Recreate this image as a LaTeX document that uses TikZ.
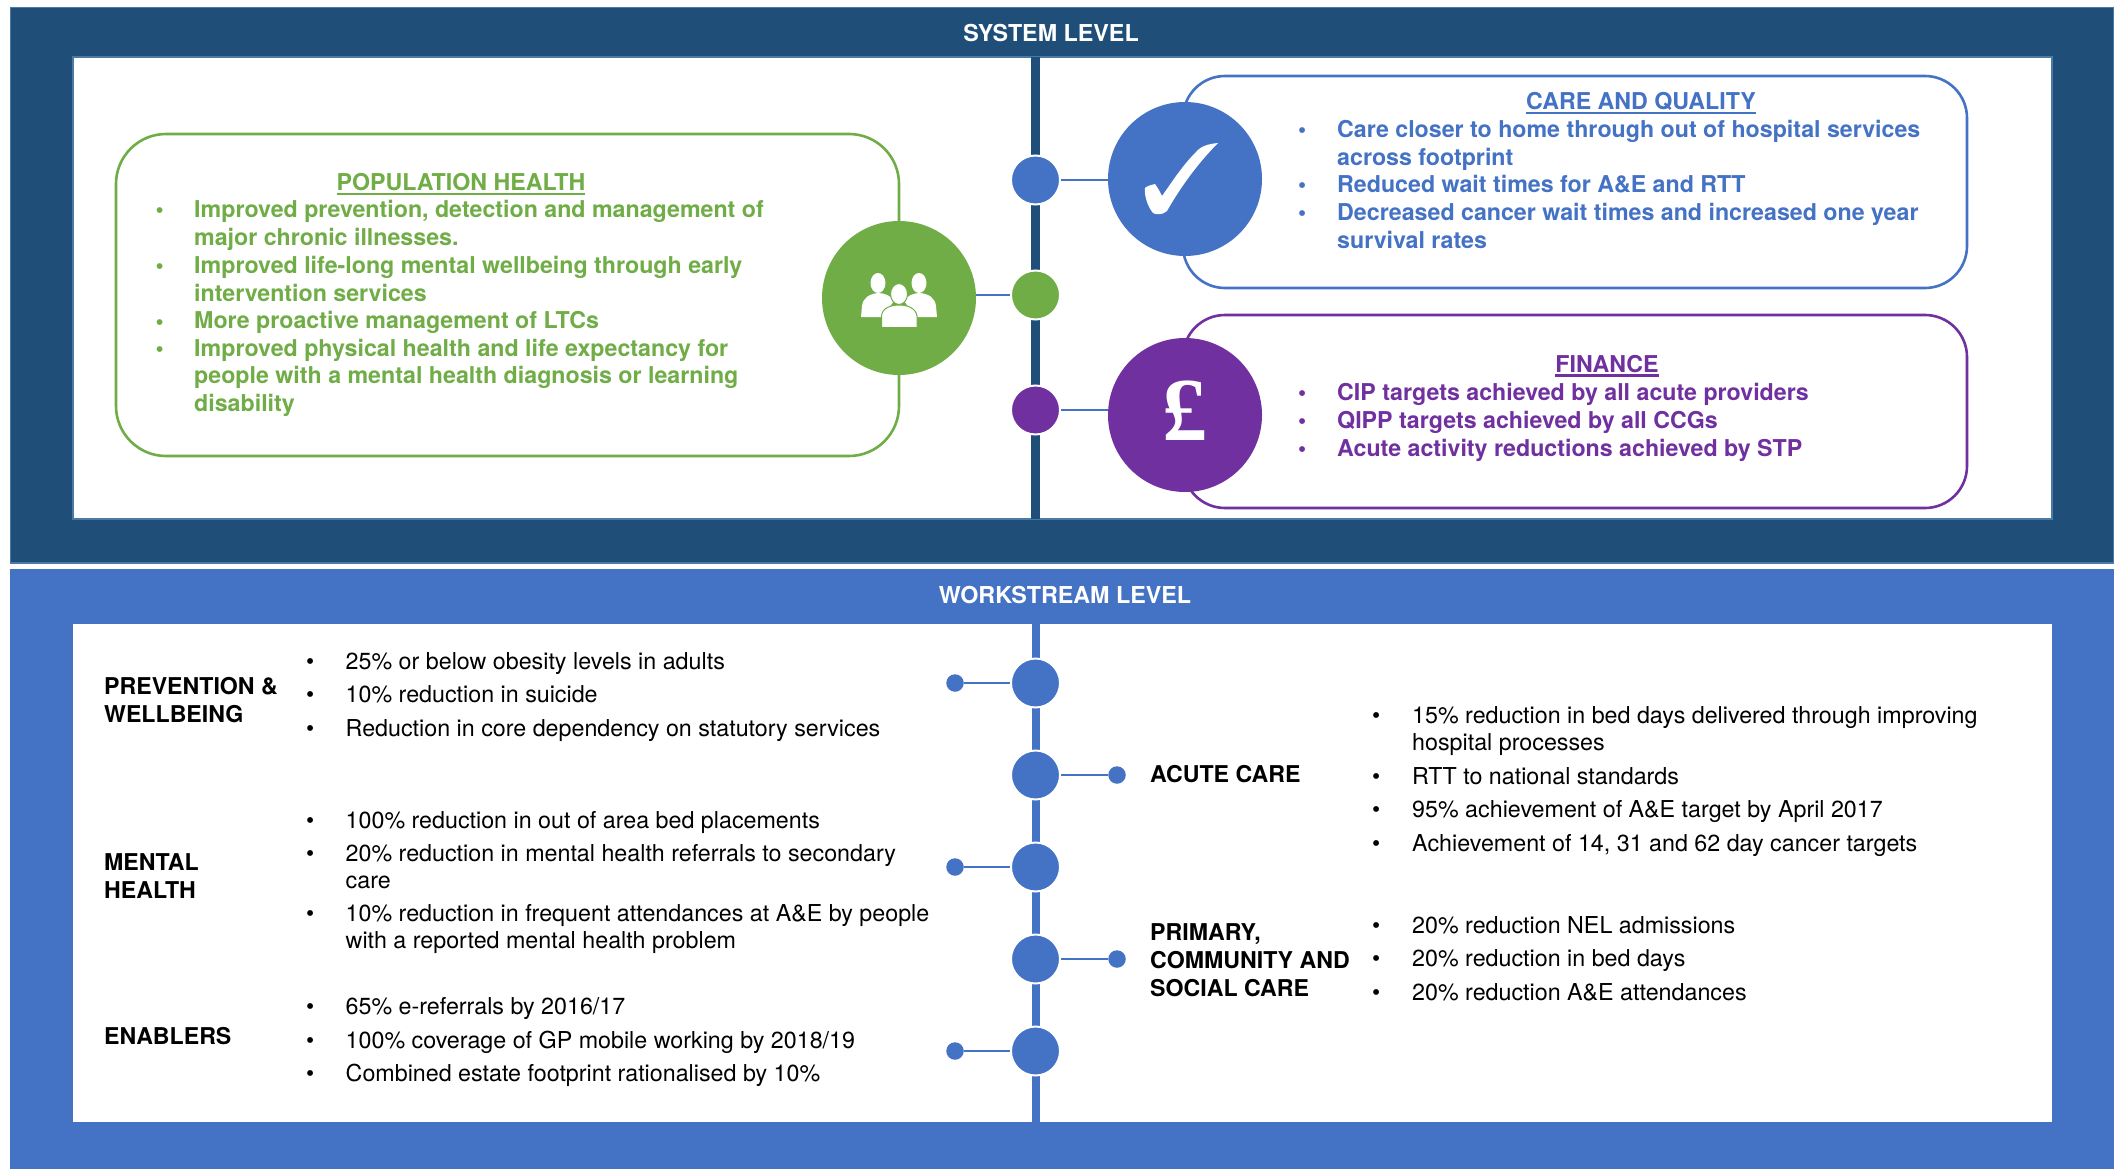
\documentclass[tikz,border=0pt]{standalone}
\usepackage{fontspec}
\setmainfont{TeX Gyre Heros}
\newfontfamily\poundfont{Liberation Serif}
\definecolor{navy}{HTML}{1F4E79}
\definecolor{navyedge}{HTML}{4A7BA6}
\definecolor{wsblue}{HTML}{4472C4}
\definecolor{popgreen}{HTML}{70AD47}
\definecolor{finpurple}{HTML}{7030A0}
\newcommand\ml[1]{\begin{tabular}[t]{@{}l@{}}#1\end{tabular}}
\newcommand\ulhead[1]{\setbox0\hbox{#1}\rlap{\rule[-5pt]{\wd0}{2.6pt}}\box0}
\tikzset{
  white panel/.style={fill=white,draw=navyedge,line width=1.5pt},
  hub/.style={circle,fill=#1,draw=white,line width=2pt,minimum size=49pt,inner sep=0pt},
  bighub/.style={circle,fill=#1,draw=none,minimum size=154pt,inner sep=0pt},
  dot/.style={circle,fill=wsblue,draw=none,minimum size=17.5pt,inner sep=0pt},
  link/.style={draw=wsblue,line width=1.6pt},
  title/.style={font=\fontsize{23.3}{27}\selectfont\bfseries,text=white,inner sep=0pt},
  boldtxt/.style={font=\fontsize{23.2}{27.7}\selectfont\bfseries,text=#1,anchor=base west,inner sep=0pt},
  plaintxt/.style={font=\fontsize{23.27}{27.5}\selectfont,text=black,anchor=base west,inner sep=0pt},
  headtxt/.style={font=\fontsize{23.15}{28}\selectfont\bfseries,text=black,anchor=base west,inner sep=0pt},
  cardhead/.style={font=\fontsize{23.2}{27.7}\selectfont\bfseries,text=#1,anchor=base,inner sep=0pt},
}
\begin{document}
\begin{tikzpicture}[x=1pt,y=-1pt]
\useasboundingbox (0,0) rectangle (2118,1169);
\fill[white] (0,0) rectangle (2118,1169);
% upper panel
\draw[fill=navy,draw=navyedge,line width=1.5pt] (10.5,7.5) rectangle (2113.5,563);
\draw[white panel] (73,57) rectangle (2052,519);
\node[title] (systitle) at (1051,33) {SYSTEM LEVEL};
\fill[navy] (1031,57) rectangle (1040,519);
% cards
\draw[draw=popgreen,line width=2.6pt,rounded corners=50pt,fill=white] (116,134) rectangle (899,456);
\draw[draw=wsblue,line width=2.6pt,rounded corners=42pt,fill=white] (1183,76) rectangle (1967,288);
\draw[draw=finpurple,line width=2.6pt,rounded corners=42pt,fill=white] (1183,315) rectangle (1967,508);
% hubs
\node[hub=wsblue] (h1) at (1035.5,180) {};
\node[hub=popgreen] (h2) at (1035.5,295) {};
\node[hub=finpurple] (h3) at (1035.5,410) {};
\node[bighub=wsblue] (b1) at (1185,179) {};
\node[bighub=popgreen] (b2) at (899,298) {};
\node[bighub=finpurple] (b3) at (1185,415) {};
\draw[link] (h1) -- (b1.west |- h1);
\draw[link] (h2) -- (b2.east |- h2);
\draw[link] (h3) -- (b3.west |- h3);
% check
\fill[white] (1218,143) .. controls (1208,144) and (1201,146) .. (1196,152) .. controls (1182,166) and (1172,182) .. (1162,196) .. controls (1160,192) and (1158,188) .. (1155,184) .. controls (1151,185) and (1147,186) .. (1145,188) .. controls (1144,196) and (1148,207) .. (1153,213) .. controls (1156,215) and (1163,215) .. (1167,211) .. controls (1180,188) and (1198,163) .. (1218,143) -- cycle;
% pound
\node[inner sep=0pt,text=white,font=\fontsize{90}{90}\selectfont\poundfont\bfseries] (pound) at (1185,411) {£};
% people
\begin{scope}[shift={(899,298)}]
\fill[white] (-21,-15) ellipse (7.5 and 10);
\fill[white] (20,-15) ellipse (7.5 and 10);
\fill[white] (-38,19) -- (-37,8) .. controls (-36,0) and (-30,-4) .. (-21,-5) .. controls (-14,-5) and (-8,-2) .. (-5,3) -- (-17,19) -- cycle;
\fill[white] (38,19) -- (37,8) .. controls (36,0) and (30,-4) .. (21,-5) .. controls (14,-5) and (8,-2) .. (5,3) -- (17,19) -- cycle;
\fill[white,draw=popgreen,line width=1pt] (-17.5,29.5) -- (-17.5,18) .. controls (-17,10) and (-8,7) .. (0,7) .. controls (8,7) and (17,10) .. (18,18) -- (18,29.5) -- cycle;
\fill[white,draw=popgreen,line width=1pt] (0,-4) ellipse (8.5 and 10.5);
\end{scope}
% green text
\node[cardhead=popgreen] (pophead) at (461,190.5) {\ulhead{POPULATION HEALTH}};
\foreach \y in {218,273.5,329,356}{\node[boldtxt=popgreen] at (155.5,\y) {\textbullet};}
\node[boldtxt=popgreen] (p1) at (194,218) {\ml{Improved prevention, detection and management of\\major chronic illnesses.}};
\node[boldtxt=popgreen] (p2) at (194,273.5) {\ml{Improved life-long mental wellbeing through early\\intervention services}};
\node[boldtxt=popgreen] (p3) at (194,328.5) {More proactive management of LTCs};
\node[boldtxt=popgreen] (p4) at (194,356) {\ml{Improved physical health and life expectancy for\\people with a mental health diagnosis or learning\\disability}};
% blue text
\node[cardhead=wsblue] (carehead) at (1641,109.5) {\ulhead{CARE AND QUALITY}};
\foreach \y in {138,193,221}{\node[boldtxt=wsblue] at (1298,\y) {\textbullet};}
\node[boldtxt=wsblue] (c1) at (1337,138) {\ml{Care closer to home through out of hospital services\\across footprint}};
\node[boldtxt=wsblue] (c2) at (1337,193) {Reduced wait times for A\&E and RTT};
\node[boldtxt=wsblue] (c3) at (1337,221) {\ml{Decreased cancer wait times and increased one year\\survival rates}};
% purple text
\node[cardhead=finpurple] (finhead) at (1607,372) {\ulhead{FINANCE}};
\foreach \y in {400,428,456}{\node[boldtxt=finpurple] at (1298,\y) {\textbullet};}
\node[boldtxt=finpurple] (f1) at (1337,400) {CIP targets achieved by all acute providers};
\node[boldtxt=finpurple] (f2) at (1337,428) {QIPP targets achieved by all CCGs};
\node[boldtxt=finpurple] (f3) at (1337,456) {Acute activity reductions achieved by STP};
% lower panel
\fill[wsblue] (10,569) rectangle (2114,1169);
\fill[white] (73,624) rectangle (2052,1122);
\node[title] (wstitle) at (1065,595) {WORKSTREAM LEVEL};
\fill[wsblue] (1031.5,624) rectangle (1040,1122);
\node[hub=wsblue] (w1) at (1035.5,683) {};
\node[hub=wsblue] (w2) at (1035.5,775) {};
\node[hub=wsblue] (w3) at (1035.5,867) {};
\node[hub=wsblue] (w4) at (1035.5,959) {};
\node[hub=wsblue] (w5) at (1035.5,1051) {};
\node[dot] (d1) at (955,683) {};
\node[dot] (d2) at (1117,775) {};
\node[dot] (d3) at (955,867) {};
\node[dot] (d4) at (1117,959) {};
\node[dot] (d5) at (955,1051) {};
\draw[link] (d1) -- (w1);
\draw[link] (d2) -- (w2);
\draw[link] (d3) -- (w3);
\draw[link] (d4) -- (w4);
\draw[link] (d5) -- (w5);
% left heads
\node[headtxt] (n1) at (104,694) {\ml{PREVENTION \&\\WELLBEING}};
\node[headtxt] (n2) at (104,870) {\ml{MENTAL\\HEALTH}};
\node[headtxt] (n3) at (104,1044) {ENABLERS};
\node[headtxt] (n4) at (1150,782) {ACUTE CARE};
\node[headtxt] (n5) at (1150,940.5) {\ml{PRIMARY,\\COMMUNITY AND\\SOCIAL CARE}};
% left bullets
\foreach \y in {669,702,736,828,861,921,1014,1048,1081}{\node[plaintxt] at (306,\y) {\textbullet};}
\node[plaintxt] (t1) at (345.5,669) {25\% or below obesity levels in adults};
\node[plaintxt] (t2) at (345.5,702) {10\% reduction in suicide};
\node[plaintxt] (t3) at (345.5,736) {Reduction in core dependency on statutory services};
\node[plaintxt] (t4) at (345.5,828) {100\% reduction in out of area bed placements};
\node[plaintxt] (t5) at (345.5,861) {\ml{20\% reduction in mental health referrals to secondary\\care}};
\node[plaintxt] (t6) at (345.5,921) {\ml{10\% reduction in frequent attendances at A\&E by people\\with a reported mental health problem}};
\node[plaintxt] (t7) at (345.5,1014) {65\% e-referrals by 2016/17};
\node[plaintxt] (t8) at (345.5,1048) {100\% coverage of GP mobile working by 2018/19};
\node[plaintxt] (t9) at (345.5,1081) {Combined estate footprint rationalised by 10\%};
% right bullets
\foreach \y in {723,784,817.5,851,933,966,1000}{\node[plaintxt] at (1372,\y) {\textbullet};}
\node[plaintxt] (r1) at (1412,723) {\ml{15\% reduction in bed days delivered through improving\\hospital processes}};
\node[plaintxt] (r2) at (1412,784) {RTT to national standards};
\node[plaintxt] (r3) at (1412,817.5) {95\% achievement of A\&E target by April 2017};
\node[plaintxt] (r4) at (1412,851) {Achievement of 14, 31 and 62 day cancer targets};
\node[plaintxt] (r5) at (1412,933) {20\% reduction NEL admissions};
\node[plaintxt] (r6) at (1412,966) {20\% reduction in bed days};
\node[plaintxt] (r7) at (1412,1000) {20\% reduction A\&E attendances};
\end{tikzpicture}
\end{document}
